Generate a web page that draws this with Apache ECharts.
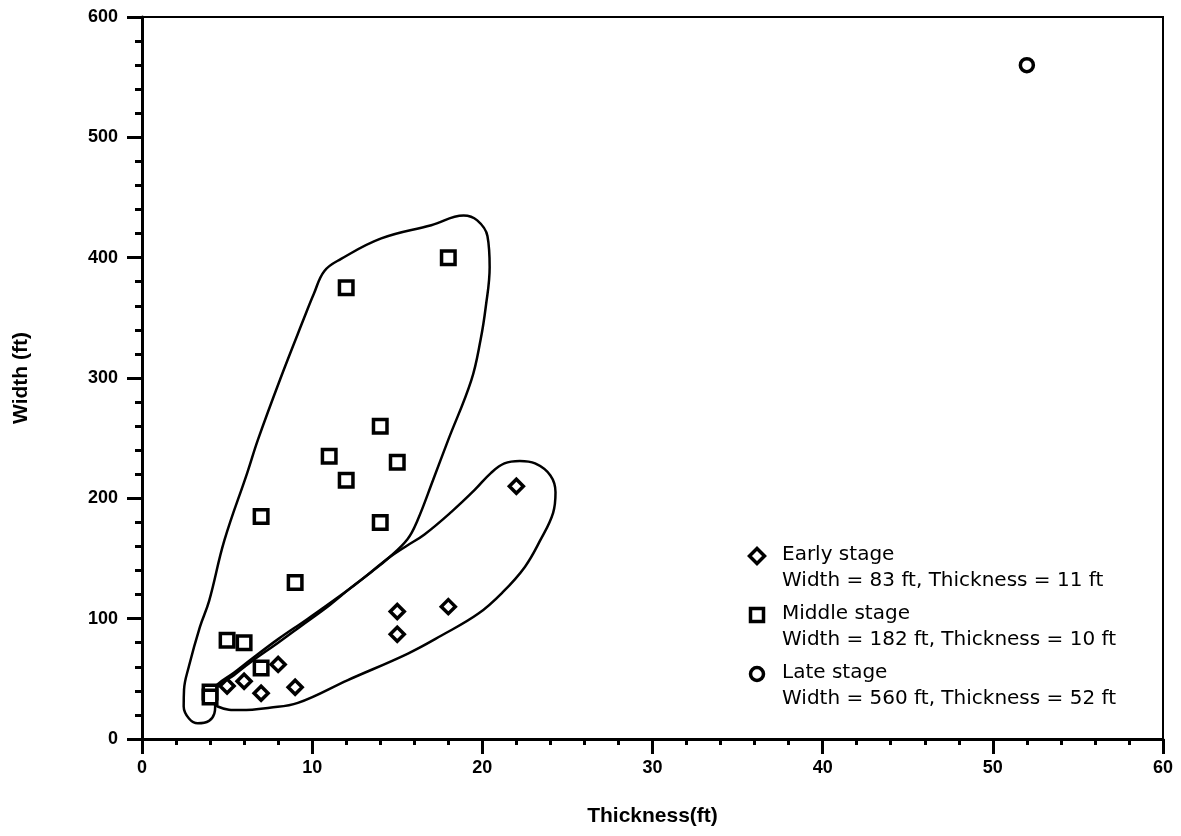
<!DOCTYPE html>
<html>
<head>
<meta charset="utf-8">
<script src="https://cdn.jsdelivr.net/npm/echarts@6/dist/echarts.min.js"></script>
<style>
html,body{margin:0;padding:0;background:#fff;}
#chart{width:1181px;height:836px;}
</style>
</head>
<body>
<div id="chart"></div>
<script>
// ---- data ----
const earlyStage = [
  [22, 210], [15, 106], [18, 110], [15, 87], [8, 62],
  [9, 43], [7, 38], [6, 48], [5, 44]
];
const middleStage = [
  [18, 400], [12, 375], [14, 260], [11, 235], [15, 230],
  [12, 215], [7, 185], [14, 180], [9, 130], [5, 82],
  [6, 80], [7, 59], [4, 39], [4, 35]
];
const lateStage = [
  [52, 560]
];
const middleEnvelope = [
  [4.3, 27], [4.4, 42], [5.4, 53], [6.4, 64], [8.0, 80], [9.35, 94], [11.0, 111],
  [12.3, 126], [13.5, 139], [14.45, 150], [15.6, 166], [16.2, 182], [17.1, 215],
  [17.98, 248], [19.35, 298], [19.9, 332], [20.2, 359], [20.43, 392], [20.3, 418],
  [19.7, 431], [18.9, 435], [17.0, 427], [14.06, 416], [11.7, 399], [10.72, 389],
  [10.1, 370], [9.53, 350], [8.12, 299], [6.82, 249], [6.18, 221], [4.84, 165],
  [3.95, 115], [3.4, 93], [2.75, 60], [2.47, 41], [2.45, 27], [2.76, 17], [3.28, 13],
  [3.94, 15], [4.25, 21], [4.3, 27]
];
const earlyEnvelope = [
  [3.9, 36], [4.4, 45], [5.4, 55], [6.4, 66], [8.0, 83], [9.75, 100], [12.5, 128],
  [14.45, 150], [15.5, 160], [16.6, 170], [18.2, 189], [19.55, 207], [20.5, 221],
  [21.3, 229], [22.2, 231], [23.1, 229], [24.0, 219], [24.3, 205], [24.16, 188],
  [23.4, 165], [22.5, 143], [21.2, 122], [19.75, 104], [17.6, 86], [15.63, 71],
  [12.1, 49], [9.16, 30], [7.5, 26], [5.82, 24], [4.45, 27], [3.9, 36]
];
const legendNames = ['Early stage', 'Middle stage', 'Late stage'];
const legendStats = [
  'Width = 83 ft, Thickness = 11 ft',
  'Width = 182 ft, Thickness = 10 ft',
  'Width = 560 ft, Thickness = 52 ft'
];
const xTickLabels = ['0', '10', '20', '30', '40', '50', '60'];
const yTickLabels = ['0', '100', '200', '300', '400', '500', '600'];

// ---- chart ----
const chart = echarts.init(document.getElementById('chart'), null, {renderer: 'canvas'});
const tickFont = {fontFamily: 'Liberation Sans, Arial, sans-serif', fontSize: 18, fontWeight: 'bold', color: '#000'};
const titleFont = {fontFamily: 'Liberation Sans, Arial, sans-serif', fontSize: 21, fontWeight: 'bold', color: '#000'};
const markerStyle = {color: '#fff', borderColor: '#000', borderWidth: 3.5, opacity: 1};

// legend layout (pixels)
const legendLeft = 749, legendTop = 542, legendGap = 7, legendLine = 26;
const legendIconX = 757;
const itemStep = 2 * legendLine + legendGap;
const iconStroke = {fill: '#fff', stroke: '#000', lineWidth: 3.5};
const legendIcons = [];
legendNames.forEach((n, i) => {
  const cy = legendTop + legendLine / 2 + i * itemStep + 1;
  if (i === 0) {
    legendIcons.push({type: 'polygon', z: 100, shape: {points: [[legendIconX, cy - 7.5], [legendIconX + 7.5, cy], [legendIconX, cy + 7.5], [legendIconX - 7.5, cy]]}, style: iconStroke});
  } else if (i === 1) {
    legendIcons.push({type: 'rect', z: 100, shape: {x: legendIconX - 6.5, y: cy - 6.5, width: 13, height: 13}, style: iconStroke});
  } else {
    legendIcons.push({type: 'circle', z: 100, shape: {cx: legendIconX, cy: cy, r: 6.5}, style: iconStroke});
  }
});

chart.setOption({
  animation: false,
  backgroundColor: '#fff',
  grid: {left: 142, right: 18, top: 17, bottom: 97, show: true, borderColor: '#000', borderWidth: 2, backgroundColor: 'transparent'},
  xAxis: {
    type: 'value', min: 0, max: 60, interval: 10,
    name: 'Thickness(ft)', nameLocation: 'middle', nameGap: 67,
    nameTextStyle: titleFont,
    axisLine: {show: true, lineStyle: {color: '#000', width: 3}},
    axisTick: {show: true, inside: false, length: 15, lineStyle: {color: '#000', width: 3}},
    minorTick: {show: true, splitNumber: 5, length: 6, lineStyle: {color: '#000', width: 3}},
    splitLine: {show: false},
    axisLabel: Object.assign({margin: 20, formatter: (v) => xTickLabels[Math.round(v / 10)]}, tickFont)
  },
  yAxis: {
    type: 'value', min: 0, max: 600, interval: 100,
    name: 'Width (ft)', nameLocation: 'middle', nameGap: 110,
    nameTextStyle: titleFont,
    axisLine: {show: true, lineStyle: {color: '#000', width: 3}},
    axisTick: {show: true, inside: false, length: 15, lineStyle: {color: '#000', width: 3}},
    minorTick: {show: true, splitNumber: 5, length: 7, lineStyle: {color: '#000', width: 3}},
    splitLine: {show: false},
    axisLabel: Object.assign({margin: 24, formatter: (v) => yTickLabels[Math.round(v / 100)]}, tickFont)
  },
  legend: {
    orient: 'vertical',
    left: legendLeft, top: legendTop, padding: 0,
    itemWidth: 27, itemHeight: 14,
    itemGap: legendGap,
    data: legendNames.map((n) => ({name: n, icon: 'path://M0 0 M27 14'})),
    formatter: (name) => name + '\n' + legendStats[legendNames.indexOf(name)],
    textStyle: {fontFamily: 'DejaVu Sans, sans-serif', fontSize: 20, color: '#000', lineHeight: legendLine},
    selectedMode: false
  },
  graphic: legendIcons,
  series: [
    {
      type: 'line', name: 'middleEnvelope', data: middleEnvelope, smooth: 0.4, symbol: 'none',
      lineStyle: {color: '#000', width: 2.5}, silent: true, z: 1
    },
    {
      type: 'line', name: 'earlyEnvelope', data: earlyEnvelope, smooth: 0.4, symbol: 'none',
      lineStyle: {color: '#000', width: 2.5}, silent: true, z: 1
    },
    {
      type: 'scatter', name: 'Early stage', data: earlyStage, symbol: 'diamond', symbolSize: 14,
      itemStyle: markerStyle, z: 3
    },
    {
      type: 'scatter', name: 'Middle stage', data: middleStage, symbol: 'rect', symbolSize: 13.5,
      itemStyle: markerStyle, z: 3
    },
    {
      type: 'scatter', name: 'Late stage', data: lateStage, symbol: 'circle', symbolSize: 13,
      itemStyle: markerStyle, z: 3
    }
  ]
});
</script>
</body>
</html>
